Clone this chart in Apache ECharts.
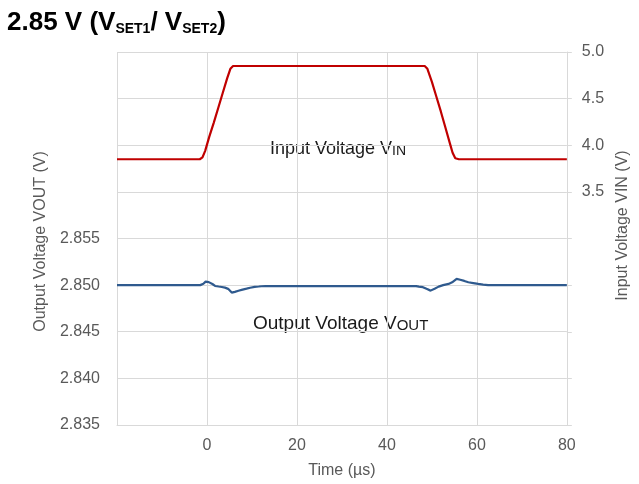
<!DOCTYPE html>
<html><head><meta charset="utf-8">
<script src="https://cdn.jsdelivr.net/npm/echarts@6/dist/echarts.min.js"></script>
<style>html,body{margin:0;padding:0;background:#fff}#c{width:639px;height:484px}</style>
</head><body><div id="c"></div>
<script>
// Input voltage VIN (right axis)
const vinTime = [-20, -1.6, -1.0, -0.4, 0.5, 1.5, 2.5, 3.5, 4.5, 5.2, 5.8, 6.5, 48.4, 49.0, 50.0, 51.0, 52.0, 53.0, 54.0, 54.6, 55.2, 56.0, 80];
const vin =     [3.85, 3.85, 3.87, 3.94, 4.09, 4.24, 4.40, 4.56, 4.72, 4.82, 4.85, 4.85, 4.85, 4.82, 4.68, 4.52, 4.36, 4.19, 4.02, 3.92, 3.86, 3.85, 3.85];
// Output voltage VOUT (left axis)
const voutTime = [-20, -17, -16.6, -16.2, -12, -8, -7.6, -7.2, -6, -5.6, -5.2, -3.6, -3.2, -2.8, -1.5, -0.8, -0.3, 0.4, 1.2, 1.8, 2.6, 3.3, 4.0, 4.7, 5.5, 6.2, 7.0, 7.7, 8.8, 9.6, 10.6, 11.5, 12.1, 12.5, 13, 15, 15.4, 15.8, 20, 22, 22.4, 22.8, 27, 30, 30.4, 30.8, 35, 36, 36.4, 36.8, 38, 38.4, 38.8, 41, 41.4, 41.8, 44, 46.5, 47.1, 48.0, 48.8, 49.7, 50.6, 51.5, 52.5, 53.7, 54.5, 55.5, 56.3, 57.2, 58.1, 59.2, 60.3, 61.4, 62.5, 64, 64.4, 64.8, 68, 70, 70.4, 70.8, 73, 75, 75.4, 75.8, 78, 80];
const vout =     [2.8500, 2.8500, 2.85008, 2.8500, 2.8500, 2.8500, 2.84992, 2.8500, 2.8500, 2.85006, 2.8500, 2.8500, 2.85006, 2.8500, 2.8500, 2.85015, 2.85038, 2.85032, 2.85012, 2.84991, 2.84985, 2.84980, 2.84973, 2.84960, 2.84920, 2.84928, 2.84940, 2.84949, 2.84962, 2.84972, 2.84981, 2.84985, 2.84988, 2.84993, 2.84990, 2.8499, 2.84984, 2.8499, 2.8499, 2.8499, 2.84995, 2.8499, 2.8499, 2.8499, 2.84984, 2.8499, 2.8499, 2.8499, 2.84996, 2.8499, 2.8499, 2.84984, 2.8499, 2.8499, 2.84995, 2.8499, 2.8499, 2.8499, 2.84984, 2.84978, 2.84960, 2.84941, 2.84962, 2.84984, 2.85000, 2.85013, 2.85030, 2.85067, 2.85058, 2.85045, 2.85031, 2.85022, 2.85013, 2.85006, 2.85000, 2.85000, 2.84994, 2.8500, 2.8500, 2.8500, 2.85006, 2.8500, 2.8500, 2.8500, 2.84995, 2.8500, 2.8500, 2.8500];
const xTicks = [-20, 0, 20, 40, 60, 80];
const leftTicks = ['2.835', '2.840', '2.845', '2.850', '2.855'];
const rightTicks = ['3.5', '4.0', '4.5', '5.0'];

const grey = '#595959';
const gridC = '#d9d9d9';
const font = 'Liberation Sans, Arial, sans-serif';
const chart = echarts.init(document.getElementById('c'));
chart.setOption({
  animation: false,
  backgroundColor: '#fff',
  textStyle: {fontFamily: font},
  grid: {left: 117, right: 69, top: 52, bottom: 59, containLabel: false},
  title: {
    left: 7, top: 4, padding: 0,
    text: '{b|2.85 V (V}{s|SET1}{b|/ V}{s|SET2}{b|)}',
    textStyle: {rich: {
      b: {fontSize: 26, fontWeight: 'bold', color: '#000', fontFamily: font, verticalAlign: 'bottom', lineHeight: 32},
      s: {fontSize: 14, fontWeight: 'bold', color: '#000', fontFamily: font, verticalAlign: 'bottom', lineHeight: 26}
    }}
  },
  xAxis: {
    type: 'value', min: -20, max: 80, interval: 20,
    axisLine: {show: true, lineStyle: {color: gridC}},
    axisTick: {show: false},
    splitLine: {show: true, lineStyle: {color: gridC}},
    axisLabel: {color: grey, fontSize: 16, margin: 13,
      formatter: v => (xTicks.indexOf(v) > 0 ? String(v) : '')},
    name: 'Time (µs)', nameLocation: 'middle', nameGap: 38,
    nameTextStyle: {color: grey, fontSize: 16}
  },
  yAxis: [{
    type: 'value', min: 2.835, max: 2.875, interval: 0.005, position: 'left',
    axisLine: {show: false}, axisTick: {show: false},
    splitLine: {show: true, lineStyle: {color: gridC}},
    axisLabel: {color: grey, fontSize: 16, margin: 17,
      formatter: v => { const s = v.toFixed(3); return leftTicks.indexOf(s) >= 0 ? s : ''; }},
    name: 'Output Voltage VOUT (V)', nameLocation: 'middle', nameGap: 68,
    nameTextStyle: {color: grey, fontSize: 16, padding: [0, 0, 0, -6]}
  }, {
    type: 'value', min: 1.0, max: 5.0, interval: 0.5, position: 'right',
    axisLine: {show: true, lineStyle: {color: gridC}},
    axisTick: {show: true, length: 5, lineStyle: {color: gridC}},
    splitLine: {show: false},
    axisLabel: {color: grey, fontSize: 16, margin: 15,
      formatter: v => { const s = v.toFixed(1); return rightTicks.indexOf(s) >= 0 ? s : ''; }},
    name: 'Input Voltage VIN (V)', nameLocation: 'middle', nameGap: 34,
    nameTextStyle: {color: grey, fontSize: 16, padding: [0, 0, 0, 26]}
  }],
  series: [{
    type: 'line', yAxisIndex: 1, showSymbol: false, symbol: 'none',
    data: vinTime.map((t, i) => [t, vin[i]]),
    lineStyle: {color: '#c00000', width: 2.2}
  }, {
    type: 'line', yAxisIndex: 0, showSymbol: false, symbol: 'none',
    data: voutTime.map((t, i) => [t, vout[i]]),
    lineStyle: {color: '#2f5a8e', width: 2.2}
  }],
  graphic: [{
    type: 'text', left: 270, top: 140,
    style: {text: '{a|Input Voltage V}{b|IN}', rich: {
      a: {fontSize: 18, fill: '#1a1a1a', fontFamily: font, verticalAlign: 'bottom', lineHeight: 20},
      b: {fontSize: 14, fill: '#1a1a1a', fontFamily: font, verticalAlign: 'bottom', lineHeight: 18}}}
  }, {
    type: 'text', left: 253, top: 314,
    style: {text: '{a|Output Voltage V}{b|OUT}', rich: {
      a: {fontSize: 19, fill: '#1a1a1a', fontFamily: font, verticalAlign: 'bottom', lineHeight: 21},
      b: {fontSize: 15, fill: '#1a1a1a', fontFamily: font, verticalAlign: 'bottom', lineHeight: 19}}}
  }]
});
</script></body></html>
